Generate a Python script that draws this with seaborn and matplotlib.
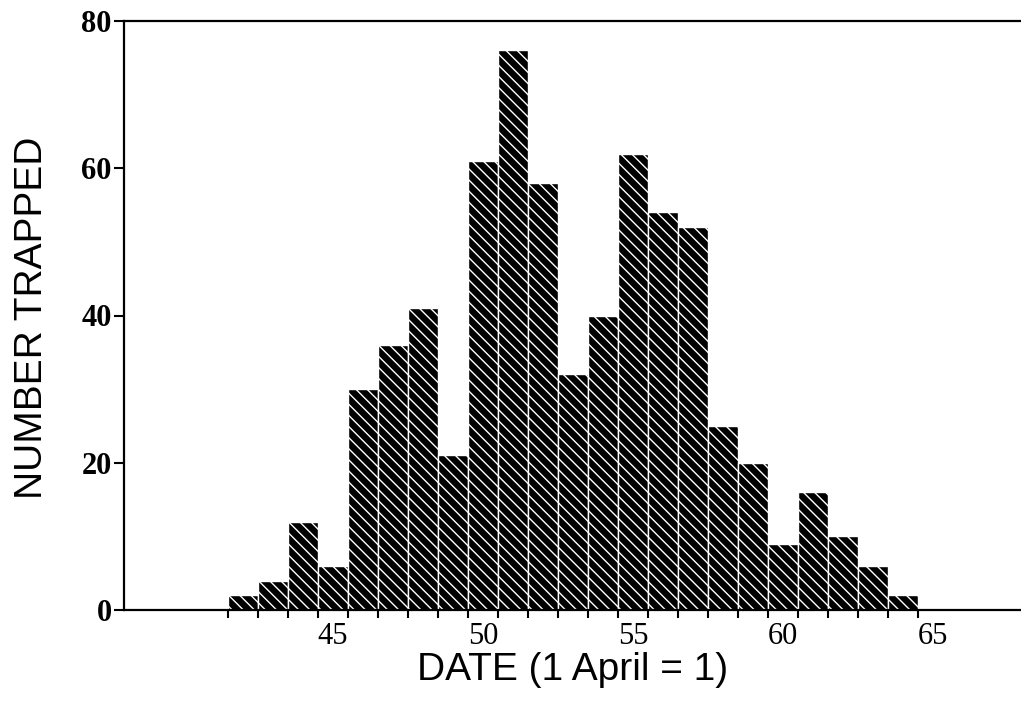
import pandas as pd
import seaborn as sns
import matplotlib.pyplot as plt
from matplotlib.ticker import FixedLocator

# counts per day (1 April = 1)
dates = list(range(42, 65))
trapped = [2, 4, 12, 6, 30, 36, 41, 21, 61, 76, 58, 32, 40, 62, 54, 52, 25, 20, 9, 16, 10, 6, 2]
x_labels = [45, 50, 55, 60, 65]
y_ticks = [0, 20, 40, 60, 80]

sns.set_theme(style='ticks')
plt.rcParams['font.family'] = ['Liberation Serif', 'DejaVu Serif']
plt.rcParams['hatch.linewidth'] = 1.0
plt.rcParams['axes.linewidth'] = 1.6
plt.rcParams['axes.edgecolor'] = 'black'

fig = plt.figure(figsize=(10.21, 7.09), dpi=100)
ax = fig.add_axes([124 / 1021, 99 / 709, 1 - 124 / 1021, 589 / 709])

df = pd.DataFrame({'date': dates, 'n': trapped})
sns.barplot(data=df, x='date', y='n', native_scale=True, width=1, color='black',
            saturation=1, edgecolor='white', linewidth=1.0, hatch='\\\\\\', ax=ax)

ax.set_xlim(38.03, 67.93)
ax.set_ylim(0, 80)

# labels at day centres, tick marks on bar edges
ax.xaxis.set_major_locator(FixedLocator(x_labels))
ax.set_xticklabels([str(v) for v in x_labels])
ax.xaxis.set_minor_locator(FixedLocator([d - 0.5 for d in dates] + [dates[-1] + 0.5]))
ax.tick_params(axis='x', which='major', length=0, pad=9, labelsize=22, colors='black')
ax.tick_params(axis='x', which='minor', length=6, width=1.5, direction='out', color='black')

ax.set_yticks(y_ticks)
ax.tick_params(axis='y', length=7, width=1.5, pad=2, labelsize=22, colors='black')
for t in ax.get_yticklabels():
    t.set_fontweight('bold')

ax.spines['right'].set_visible(False)

ax.set_ylabel('NUMBER TRAPPED', family='Liberation Sans', fontsize=28, color='black')
ax.yaxis.set_label_coords(-0.083, 0.496)
ax.set_xlabel('DATE (1 April = 1)', family='Liberation Sans', fontsize=28, color='black')
ax.xaxis.set_label_coords(0.5, -0.072)

fig.savefig('out.png', dpi=100)
